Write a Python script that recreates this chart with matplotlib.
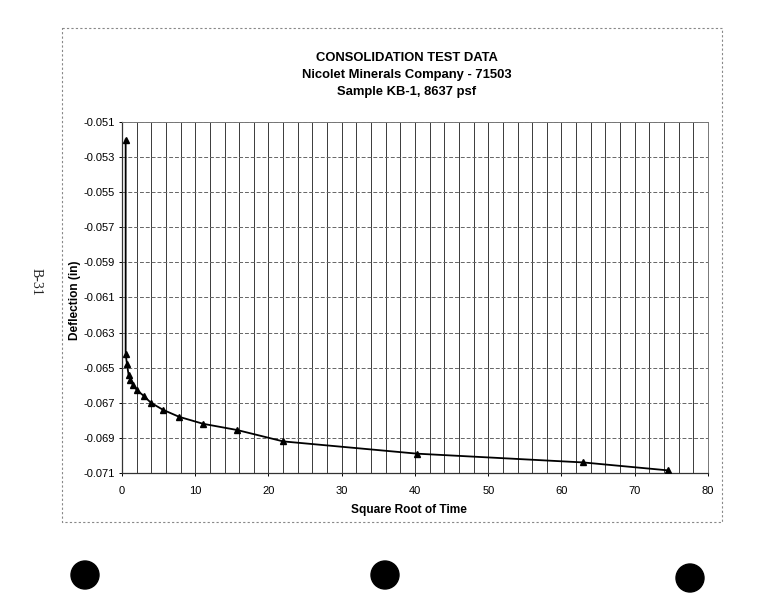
import numpy as np
import matplotlib
matplotlib.use('Agg')
import matplotlib.pyplot as plt
import matplotlib.patches as patches
from matplotlib.ticker import MultipleLocator, FormatStrFormatter

# square root of time vs. deflection (in)
sqrt_time = [0.5, 0.5, 0.68, 0.9, 1.15, 1.5, 2.1, 2.95, 3.95, 5.6, 7.8, 11.1, 15.7,
             22.0, 40.3, 63.0, 74.5]
deflection = [-0.0520, -0.0642, -0.0648, -0.0654, -0.0657, -0.0660, -0.0663, -0.0666,
              -0.0670, -0.0674, -0.0678, -0.0682, -0.06855, -0.0692, -0.0699,
              -0.0704, -0.07085]

title_lines = ['CONSOLIDATION TEST DATA',
               'Nicolet Minerals Company - 71503',
               'Sample KB-1, 8637 psf']
x_ticks = [0, 10, 20, 30, 40, 50, 60, 70, 80]
y_ticks = [-0.071, -0.069, -0.067, -0.065, -0.063, -0.061, -0.059, -0.057,
           -0.055, -0.053, -0.051]

plt.rcParams['font.family'] = ['Liberation Sans', 'DejaVu Sans']

fig = plt.figure(figsize=(7.75, 6), dpi=100)

# page layer in pixel units (border of the chart, page number, punch holes)
bg = fig.add_axes([0, 0, 1, 1], zorder=0)
bg.set_xlim(0, 775)
bg.set_ylim(600, 0)
bg.axis('off')
bg.add_patch(patches.Rectangle((62, 28), 660, 494, fill=False, edgecolor='#888888',
                               linestyle=(0, (2, 2)), linewidth=0.8))
for cx, cy in [(85, 575), (385, 575), (690, 578)]:
    bg.add_patch(patches.Circle((cx, cy), 14, color='black'))
bg.text(36, 282, 'B-31', rotation=-90, ha='center', va='center', fontsize=10,
        family=['Liberation Serif', 'DejaVu Serif'], color='#222222')

for i, line in enumerate(title_lines):
    bg.text(407, 58 + i * 17, line, ha='center', va='center', fontsize=9.4,
            fontweight='bold')

ax = fig.add_axes([0.1574, 0.2117, 0.7561, 0.585], zorder=1)
ax.patch.set_alpha(0)
ax.plot(sqrt_time, deflection, color='black', linewidth=1.3, marker='^',
        markersize=5, zorder=3)

ax.set_xlim(0, 80)
ax.set_ylim(-0.071, -0.051)
ax.set_xticks(x_ticks)
ax.xaxis.set_minor_locator(MultipleLocator(2))
ax.set_yticks(y_ticks)
ax.yaxis.set_major_formatter(FormatStrFormatter('%.3f'))

ax.grid(axis='x', which='both', color='#3a3a3a', linewidth=0.7)
ax.grid(axis='y', which='major', color='#666666', linewidth=0.7, linestyle=(0, (4, 2)))

ax.tick_params(axis='both', which='major', labelsize=8, length=2.5, width=0.7)
ax.tick_params(axis='x', which='minor', length=0)
ax.tick_params(axis='x', pad=7)
ax.tick_params(axis='y', pad=2.5)

for side in ['top', 'right']:
    ax.spines[side].set_color('#777777')
    ax.spines[side].set_linewidth(0.7)
for side in ['left', 'bottom']:
    ax.spines[side].set_color('#333333')
    ax.spines[side].set_linewidth(0.9)

ax.set_xlabel('Square Root of Time', fontsize=8.6, fontweight='bold')
ax.set_ylabel('Deflection (in)', fontsize=8.6, fontweight='bold')
ax.xaxis.set_label_coords(0.49, -0.088)
ax.yaxis.set_label_coords(-0.07, 0.493)

fig.savefig('out.png', dpi=100)
